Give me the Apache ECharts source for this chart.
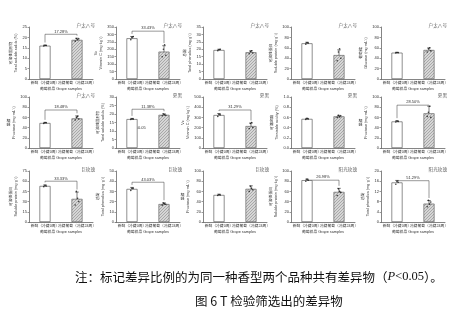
<!DOCTYPE html>
<html><head><meta charset="utf-8">
<script src="https://cdn.jsdelivr.net/npm/echarts@6/dist/echarts.min.js"></script>
<style>html,body{margin:0;padding:0;background:#fff}#c{width:460px;height:322px}</style>
</head><body><div id="c"></div>
<script>
// ---- data ----
const categories = ['新鲜（冷藏0周）', '冷藏葡萄（冷藏24周）'];
const panelTitles = ['户太八号','户太八号','户太八号','户太八号','户太八号','户太八号','夏黑','夏黑','夏黑','夏黑','巨玫瑰','巨玫瑰','巨玫瑰','阳光玫瑰','阳光玫瑰'];
const yNameCn = ['可溶性固形物','Vc','总酚','可溶性蛋白','葡萄糖','果糖','可溶性固形物','Vc','可滴定酸','果糖','可溶性蛋白','总酚','果糖','可溶性蛋白','总酚'];
const yNameEn = ['Total soluble solids (%)','Vitamin C (mg·kg⁻¹)','Total phenolics (mg·g⁻¹)','Soluble protein (mg·g⁻¹)','Glucose (mg·mL⁻¹)','Fructose (mg·mL⁻¹)','Total soluble solids (%)','Vitamin C (mg·kg⁻¹)','Titratable acidity (%)','Fructose (mg·mL⁻¹)','Soluble protein (mg·g⁻¹)','Total phenolics (mg·g⁻¹)','Fructose (mg·mL⁻¹)','Soluble protein (mg·kg⁻¹)','Total phenolics (mg·g⁻¹)'];
const yMax = [25,350,35,100,100,100,30,500,1.0,100,75,50,100,100,20];
const yInterval = [5,50,5,20,20,20,5,100,0.2,20,15,10,20,20,4];
const freshValues = [16.0,274,19.5,68.6,50.6,49,17,323,0.57,52,53,32.4,53,82,15.5];
const storedValues = [18.8,184,18,46,55.8,58,19.5,215,0.62,68,34,17.6,65,59,7.2];
const freshErr = [0.3,12,0.5,2,0.8,1.2,0.4,15,0.01,1.5,1.5,1.5,1.5,2,0.8];
const storedErr = [0.8,40,1,10,4,5,0.6,30,0.02,14,10,1.2,6,7,1.2];
const freshReps = [[15.9,16.2,16.1],[265,280,285],[19,19.8,20],[67,70,69],[50,51,50.5],[48,50,49.5],[16.8,17.2,17],[310,330,325],[0.56,0.58,0.57],[51,53,52],[52,54,53],[31,33,33],[52,54,53],[80,84,82],[14.8,16,15.6]];
const storedReps = [[18.2,19.5,18.9,19.3],[150,200,230,160],[17,18.5,19,17.5],[35,52,58,40],[52,58,60,54],[55,60,62,57],[19,20,19.6,19.3],[190,240,250,200],[0.6,0.64,0.61,0.63],[62,70,82,60],[25,45,35,30],[16.5,18.5,17.8,17.4],[60,70,66,63],[52,65,60,58],[6,8.5,7,7.8]];
const diffLabels = ['17.28%','33.43%','','','','18.48%','11.38%','31.29%','','28.50%','33.33%','43.03%','','26.98%','51.29%'];
const xAxisName = '葡萄样品 Grape samples';
const noteText = '注：标记差异比例的为同一种香型两个品种共有差异物（';
const captionText = '图 6 T 检验筛选出的差异物';

// ---- layout ----
const colLeft = [29,116,203,291,381];
const gridW = 64;
const rowTop = [27,97,171];
const rowH = [52,51,51];
const bracketFrac = [0.86,0.92,0,0,0,0.745,0.76,0.745,0,0.84,0.80,0.78,0,0.82,0.81];

const hatch = (function(){const c=document.createElement('canvas');c.width=3;c.height=3;const g=c.getContext('2d');g.fillStyle='#d6d6d6';g.fillRect(0,0,3,3);g.strokeStyle='#939393';g.lineWidth=0.7;g.beginPath();g.moveTo(-1,4);g.lineTo(4,-1);g.stroke();return c;})();

const FS = 'Liberation Sans, Noto Sans CJK SC, sans-serif';
const grids=[],xAxes=[],yAxes=[],series=[],graphics=[];
for(let i=0;i<15;i++){
  const r=Math.floor(i/5), c=i%5;
  grids.push({left:colLeft[c],top:rowTop[r],width:gridW,height:rowH[r]});
  xAxes.push({type:'category',gridIndex:i,data:categories,
    axisLine:{lineStyle:{color:'#333',width:0.6}},axisTick:{show:false},
    axisLabel:{interval:0,fontSize:3.8,color:'#333',margin:2,fontFamily:FS,hideOverlap:false},
    name:xAxisName,nameLocation:'middle',nameGap:8,nameTextStyle:{fontSize:3.8,color:'#333',fontFamily:FS}});
  yAxes.push({type:'value',gridIndex:i,min:0,max:yMax[i],interval:yInterval[i],
    axisLine:{show:true,lineStyle:{color:'#333',width:0.6}},axisTick:{show:true,length:1.5,lineStyle:{width:0.5}},
    splitLine:{show:false},
    axisLabel:{fontSize:4,color:'#333',margin:2,fontFamily:FS,formatter:v=>yMax[i]<=1?v.toFixed(1):String(v)},
    name:yNameCn[i]+'\n'+yNameEn[i],nameLocation:'middle',nameGap:7,nameRotate:90,
    nameTextStyle:{fontSize:3.8,lineHeight:5,color:'#333',fontFamily:FS}});
  series.push({type:'bar',xAxisIndex:i,yAxisIndex:i,barWidth:11,silent:true,
    data:[{value:freshValues[i],itemStyle:{color:'#fff',borderColor:'#444',borderWidth:0.6}},
          {value:storedValues[i],itemStyle:{color:{image:hatch,repeat:'repeat'},borderColor:'#555',borderWidth:0.6}}]});
  series.push({type:'custom',xAxisIndex:i,yAxisIndex:i,silent:true,
    data:[[0,freshValues[i],freshErr[i]],[1,storedValues[i],storedErr[i]]],
    renderItem:function(p,api){const x=api.value(0),m=api.value(1),e=api.value(2);
      const t=api.coord([x,m+e]),b=api.coord([x,Math.max(0,m-e)]);const s={stroke:'#222',lineWidth:0.6};
      return {type:'group',children:[
        {type:'line',shape:{x1:t[0],y1:t[1],x2:b[0],y2:b[1]},style:s},
        {type:'line',shape:{x1:t[0]-1.8,y1:t[1],x2:t[0]+1.8,y2:t[1]},style:s},
        {type:'line',shape:{x1:b[0]-1.8,y1:b[1],x2:b[0]+1.8,y2:b[1]},style:s}]};}});
  const pts=[];
  freshReps[i].forEach((v,k)=>pts.push({value:[0,v],symbolOffset:[(k-1)*1.2,0]}));
  storedReps[i].forEach((v,k)=>pts.push({value:[1,v],symbolOffset:[(k-1.5)*1.2,0]}));
  series.push({type:'scatter',xAxisIndex:i,yAxisIndex:i,silent:true,symbolSize:1.6,itemStyle:{color:'#111'},data:pts});
  if(diffLabels[i]){
    const lvl=bracketFrac[i]*yMax[i];
    const a=freshValues[i]+freshErr[i]+yMax[i]*0.05, b=storedValues[i]+storedErr[i]+yMax[i]*0.05;
    series.push({type:'custom',xAxisIndex:i,yAxisIndex:i,silent:true,
      data:[[0,lvl,a,b]],
      renderItem:function(p,api){const l=api.value(1);
        const p0=api.coord([0,Math.min(api.value(2),l)]),pa=api.coord([0,l]),pb=api.coord([1,l]),p1=api.coord([1,Math.min(api.value(3),l)]);
        return {type:'group',children:[
          {type:'polyline',shape:{points:[p0,pa,pb,p1]},style:{stroke:'#333',lineWidth:0.5,fill:null}},
          {type:'text',x:(pa[0]+pb[0])/2,y:pa[1]-0.8,style:{text:diffLabels[i],fill:'#333',font:'4px Liberation Sans',align:'center',verticalAlign:'bottom'}}]};}});
  }
  graphics.push({type:'text',x:colLeft[c]+gridW+2,y:rowTop[r]-2,style:{text:panelTitles[i],fill:'#666',font:'4.6px "Noto Sans CJK SC"',align:'right',verticalAlign:'middle'}});
}
graphics.push({type:'text',x:133,y:128,style:{text:'P<0.05',fill:'#333',font:'4px Liberation Sans',verticalAlign:'middle'}});
graphics.push({type:'text',x:75,y:277,style:{
  text:'{a|'+noteText+'}{p|P}{n|<0.05}{a|）。}',verticalAlign:'middle',
  rich:{a:{fontSize:12.5,fontFamily:'Noto Sans CJK SC',fill:'#111'},p:{fontSize:12.5,fontFamily:'Liberation Serif',fontStyle:'italic',fill:'#111'},n:{fontSize:12.5,fontFamily:'Liberation Serif',fill:'#111'}}}});
graphics.push({type:'text',x:195,y:301,style:{text:captionText,font:'12.5px "Noto Sans CJK SC"',fill:'#111',verticalAlign:'middle'}});

const chart=echarts.init(document.getElementById('c'),null,{renderer:'canvas'});
chart.setOption({animation:false,backgroundColor:'#fff',grid:grids,xAxis:xAxes,yAxis:yAxes,series:series,graphic:graphics});
</script></body></html>
